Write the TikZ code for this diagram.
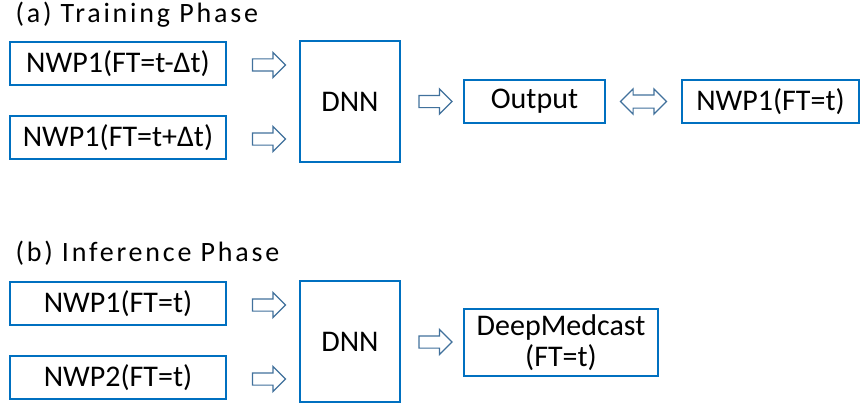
\documentclass[tikz,border=0pt]{standalone}
\usepackage{fontspec}
\setmainfont{Carlito}
\usetikzlibrary{shapes.arrows,positioning,calc}
\definecolor{boxBlue}{HTML}{0070C0}
\definecolor{arrBlue}{HTML}{41719C}

\begin{document}
\begin{tikzpicture}[x=1pt, y=-1pt, font=\fontsize{30}{31}\selectfont,
  ttl/.style={anchor=base west,font=\fontsize{28}{31}\selectfont\addfontfeature{LetterSpace=10}},
  bx/.style={draw=boxBlue,line width=2pt,minimum height=43pt,inner sep=0pt},
  blk/.style={single arrow,draw=arrBlue,line width=1.2pt,fill=white,inner xsep=0pt,inner ysep=5.5pt,
    minimum height=33pt,single arrow head extend=6.5pt},
  dbl/.style={double arrow,draw=arrBlue,line width=1.2pt,fill=white,inner xsep=0pt,inner ysep=6pt,
    minimum height=46pt,double arrow head extend=6pt}]
\useasboundingbox (0,0) rectangle (862,404);
% (a) training
\node[ttl] (ta) at (12,22.5) {(a) Training Phase};
\node[bx,minimum width=216pt] (a1) at (118,63.5) {NWP1(FT=t-Δt)};
\node[bx,minimum width=216pt] (a2) at (118,137.5) {NWP1(FT=t+Δt)};
\node[bx,minimum width=100pt,minimum height=121pt] (dnna) at (350,101.5) {DNN};
\node[bx,minimum width=141pt] (outa) at (534.5,101.5) {Output};
\node[bx,minimum width=177pt] (refa) at (770.5,101.5) {NWP1(FT=t)};
\node[blk] (pa1) at (266,65) {};
\node[blk] (pa2) at (266,139) {};
\node[blk] (pa3) at (432.5,101.5) {};
\node[dbl] (da) at (643.5,101.5) {};
% (b) inference
\node[ttl] (tb) at (12,261) {(b) Inference Phase};
\node[bx,minimum width=216pt] (b1) at (118,303.5) {NWP1(FT=t)};
\node[bx,minimum width=216pt] (b2) at (118,377.5) {NWP2(FT=t)};
\node[bx,minimum width=100pt,minimum height=121pt] (dnnb) at (350,341.5) {DNN};
\node[bx,minimum width=194pt,minimum height=67pt,align=center] (outb) at (561,342.5) {DeepMedcast\\(FT=t)};
\node[blk] (pb1) at (266,305) {};
\node[blk] (pb2) at (266,379) {};
\node[blk] (pb3) at (432.5,342) {};
\end{tikzpicture}
\end{document}
